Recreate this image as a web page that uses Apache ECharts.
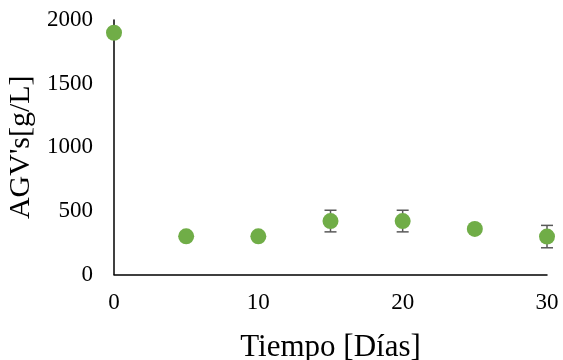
<!DOCTYPE html>
<html><head><meta charset="utf-8">
<script src="https://cdn.jsdelivr.net/npm/echarts@6/dist/echarts.min.js"></script>
<style>html,body{margin:0;padding:0;background:#fff}#c{width:563px;height:360px}</style>
</head><body><div id="c"></div>
<script>
const days = [0, 5, 10, 15, 20, 25, 30];
const agv = [1900, 300, 300, 420, 420, 358, 298];
const agvErr = [0, 0, 0, 85, 85, 0, 88];
const xTicks = [0, 10, 20, 30];
const yTicks = [0, 500, 1000, 1500, 2000];

const chart = echarts.init(document.getElementById('c'));
const FONT = '"Liberation Serif", "Times New Roman", serif';
const pts = days.map((d, i) => [d, agv[i]]);
const errData = days.map((d, i) => [d, agv[i] - agvErr[i], agv[i] + agvErr[i]]).filter((e, i) => agvErr[i] > 0);

chart.setOption({
  animation: false,
  grid: { left: 114, right: 16, top: 20, bottom: 85.5, containLabel: false, outerBoundsMode: 'none' },
  xAxis: {
    type: 'value', min: xTicks[0], max: xTicks[xTicks.length - 1], interval: 10,
    axisLine: { lineStyle: { color: '#000', width: 1.5 } },
    axisTick: { show: false }, splitLine: { show: false },
    axisLabel: { color: '#000', fontFamily: FONT, fontSize: 23, margin: 17, formatter: v => String(v) },
    name: 'Tiempo [Días]', nameLocation: 'middle', nameGap: 58,
    nameTextStyle: { color: '#000', fontFamily: FONT, fontSize: 31 }
  },
  yAxis: {
    type: 'value', min: yTicks[0], max: yTicks[yTicks.length - 1], interval: 500,
    axisLine: { show: true, lineStyle: { color: '#000', width: 1.5 } },
    axisTick: { show: false }, splitLine: { show: false },
    axisLabel: { color: '#000', fontFamily: FONT, fontSize: 23, margin: 21, formatter: v => String(v) },
    name: "AGV's[g/L]", nameLocation: 'middle', nameGap: 77,
    nameTextStyle: { color: '#000', fontFamily: FONT, fontSize: 30 }
  },
  series: [
    {
      type: 'custom',
      data: errData,
      z: 1,
      renderItem: function (params, api) {
        const x = api.value(0);
        const lo = api.coord([x, api.value(1)]);
        const hi = api.coord([x, api.value(2)]);
        const w = 6;
        const st = { stroke: '#595959', lineWidth: 1.5 };
        return { type: 'group', children: [
          { type: 'line', shape: { x1: lo[0], y1: lo[1], x2: hi[0], y2: hi[1] }, style: st },
          { type: 'line', shape: { x1: lo[0] - w, y1: lo[1], x2: lo[0] + w, y2: lo[1] }, style: st },
          { type: 'line', shape: { x1: hi[0] - w, y1: hi[1], x2: hi[0] + w, y2: hi[1] }, style: st }
        ]};
      }
    },
    {
      type: 'scatter', data: pts, symbolSize: 16, z: 2,
      itemStyle: { color: '#70AD47', opacity: 1 }
    }
  ]
});
</script></body></html>
